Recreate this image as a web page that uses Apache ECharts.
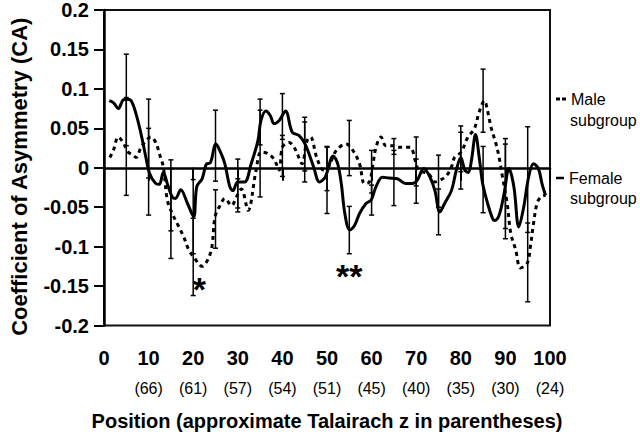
<!DOCTYPE html>
<html>
<head>
<meta charset="utf-8">
<script src="https://cdn.jsdelivr.net/npm/echarts@6/dist/echarts.min.js"></script>
<style>
html,body{margin:0;padding:0;background:#fff;}
#chart{width:640px;height:437px;}
</style>
</head>
<body>
<div id="chart"></div>
<script>
// ---- data ----
const xTickLabels = ['0','10','20','30','40','50','60','70','80','90','100'];
const parenLabels = ['', '(66)','(61)','(57)','(54)','(51)','(45)','(40)','(35)','(30)','(24)'];
const yTickLabels = ['-0.2','-0.15','-0.1','-0.05','0','0.05','0.1','0.15','0.2'];

const femaleX = [1.2,2.2,3.2,4.3,5.2,6.1,7.2,8.3,9.4,10.2,11.6,12.4,13.3,14.3,15.3,16,17.2,18.7,20.1,20.8,22,23,23.8,25.1,26.1,27.1,28.2,28.9,30,31.5,33,34.5,35.2,36.3,37.3,38.1,39.3,40.7,42.2,43.7,45.1,47,48.3,49.6,51.4,52.4,53.2,54,55.1,56.2,57.3,58.8,59.9,61,62.4,63.9,65.8,67.6,69.1,70.2,71.7,73.1,74.2,75.3,76.4,77.9,79,80,80.9,81.7,82.4,83.3,84.2,84.9,86,87.1,87.6,88.6,89.7,90.8,91.9,93,94.1,95.2,96.3,97.4,98.2,99];
const femaleY = [0.085,0.082,0.075,0.086,0.087,0.085,0.068,0.043,0.013,-0.007,-0.02,-0.021,-0.006,-0.022,-0.037,-0.039,-0.028,-0.045,-0.062,-0.024,-0.014,0.005,0.006,0.03,0.02,0.005,-0.024,-0.029,-0.018,-0.018,0.005,0.034,0.06,0.072,0.066,0.056,0.06,0.072,0.045,0.041,0.03,0.001,-0.018,-0.012,0.015,0.005,-0.02,-0.058,-0.079,-0.073,-0.058,-0.045,-0.041,-0.024,-0.012,-0.013,-0.014,-0.02,-0.02,-0.016,-0.001,-0.012,-0.029,-0.056,-0.045,-0.029,-0.003,0.013,-0.003,-0.006,0.01,0.042,0.01,-0.02,-0.045,-0.064,-0.067,-0.06,-0.033,-0.001,-0.024,-0.075,-0.05,-0.012,0.005,-0.001,-0.02,-0.035];

const maleX = [1.3,2.1,3.2,4.3,5.4,6.5,7.2,8.3,9.4,10.5,11.6,12.4,13.3,14.2,15.3,16.8,17.9,19,20.1,22,23.4,24.2,24.9,26,27.1,28.6,29.7,30.8,32.3,34.1,35.2,36.7,38.1,39.3,40,41.5,42.6,43.3,44.4,45.5,46.3,47.7,49.2,50.3,52.1,54.3,55.8,57.3,58.4,59.5,60.2,61,62.1,63.2,64.7,66.1,67.6,68.7,69.8,70.6,72.8,74.2,75.3,76.8,77.9,78.6,80.1,81.6,83,84.2,85.3,86,86.8,87.9,88.6,89.3,90.4,91.2,92.3,93.4,94.9,95.6,96.3,97.1,98,99];
const maleY = [0.013,0.022,0.039,0.032,0.02,0.016,0.013,0.026,0.034,0.039,0.032,0.018,0.001,-0.041,-0.058,-0.075,-0.088,-0.104,-0.113,-0.125,-0.115,-0.1,-0.062,-0.048,-0.039,-0.048,-0.037,-0.027,-0.054,-0.003,0.02,0.018,0.011,-0.003,0.026,0.032,0.026,0.018,0.005,0.034,0.039,0.013,-0.003,0.001,0.022,0.03,0.022,0.005,-0.02,-0.018,0.001,0.026,0.039,0.028,0.028,0.026,0.026,0.026,0.009,-0.003,-0.008,-0.018,-0.016,-0.01,0.001,0.013,0.02,0.039,0.049,0.072,0.085,0.072,0.051,0.03,0.013,-0.01,-0.045,-0.083,-0.104,-0.127,-0.121,-0.1,-0.071,-0.045,-0.037,-0.035];

const errX = [5,10,15,20,25,30,35,40,45,50,55,60,65,70,75,80,85,90,95];
const femaleErrCenter = [0.086,-0.005,-0.035,-0.062,0.028,-0.02,0.058,0.065,0.03,-0.016,-0.079,-0.041,-0.013,-0.017,-0.056,0.013,-0.015,-0.03,-0.015];
const femaleErrHalf   = [0.058,0.055,0.045,0.047,0.045,0.031,0.029,0.029,0.034,0.042,0.03,0.019,0.035,0.028,0.029,0.04,0.042,0.06,0.067];
const maleErrCenter   = [0.027,0.037,-0.058,-0.113,-0.065,-0.035,0.018,0.015,0.02,-0.001,0.025,-0.005,0.027,0.008,-0.017,0.02,0.085,-0.02,-0.12];
const maleErrHalf     = [0.062,0.05,0.057,0.049,0.037,0.021,0.055,0.026,0.038,0.028,0.035,0.027,0.01,0.031,0.033,0.025,0.04,0.057,0.05];

const annotX = [21.4, 55.0];
const annotY = [-0.149, -0.132];
const annotText = ['*', '**'];

// ---- build chart ----
const femaleData = femaleX.map((x, i) => [x, femaleY[i]]);
const maleData = maleX.map((x, i) => [x, maleY[i]]);
const errData = [];
errX.forEach((x, i) => {
  errData.push([x, femaleErrCenter[i] - femaleErrHalf[i], femaleErrCenter[i] + femaleErrHalf[i]]);
  errData.push([x, maleErrCenter[i] - maleErrHalf[i], maleErrCenter[i] + maleErrHalf[i]]);
});
const annotData = annotX.map((x, i) => [x, annotY[i]]);

const FONT = 'Liberation Sans, Arial, Helvetica, sans-serif';
const chart = echarts.init(document.getElementById('chart'), null, {renderer: 'svg'});

chart.setOption({
  animation: false,
  backgroundColor: '#fff',
  textStyle: {fontFamily: FONT, color: '#000'},
  grid: {left: 97, right: 90, top: 9, bottom: 111.5, show: true, borderColor: '#111', borderWidth: 2, backgroundColor: 'transparent'},
  legend: [
    {data: [{name: 'Male', icon: 'path://M0,0H4V3H0Z M6,0H10V3H6Z'}], left: 556, top: 91, padding: 0,
     itemWidth: 10, itemHeight: 3, itemGap: 5,
     itemStyle: {color: '#000', borderWidth: 0},
     textStyle: {fontSize: 16, color: '#000', fontFamily: FONT, lineHeight: 16}, selectedMode: false},
    {data: [{name: 'Female', icon: 'rect'}], left: 556, top: 170, padding: 0,
     itemWidth: 8, itemHeight: 2.5, itemGap: 6,
     itemStyle: {color: '#000', borderWidth: 0},
     textStyle: {fontSize: 16, color: '#000', fontFamily: FONT, lineHeight: 16}, selectedMode: false}
  ],
  graphic: [
    {type: 'text', left: 570, top: 112, style: {text: 'subgroup', font: '16px ' + FONT, fill: '#000'}},
    {type: 'text', left: 570, top: 190, style: {text: 'subgroup', font: '16px ' + FONT, fill: '#000'}}
  ],
  xAxis: [
    {type: 'value', min: 0, max: 100, interval: 10,
     name: 'Position (approximate Talairach z in parentheses)', nameLocation: 'middle', nameGap: 85,
     nameTextStyle: {fontSize: 20, fontWeight: 'bold', color: '#000', fontFamily: FONT},
     axisLine: {show: true, lineStyle: {color: '#000', width: 2.5}},
     axisTick: {show: true, length: 13, lineStyle: {color: '#000', width: 2}},
     axisLabel: {margin: 22, fontSize: 20, fontWeight: 'bold', color: '#000', fontFamily: FONT,
       showMinLabel: true, showMaxLabel: true,
       formatter: v => xTickLabels[Math.round(v / 10)]},
     splitLine: {show: false}},
    {type: 'value', min: 0, max: 100, interval: 10, position: 'bottom',
     axisLine: {show: false}, axisTick: {show: false}, splitLine: {show: false},
     axisLabel: {margin: 55, fontSize: 16, color: '#000', fontFamily: FONT,
       showMinLabel: true, showMaxLabel: true,
       formatter: v => parenLabels[Math.round(v / 10)]}}
  ],
  yAxis: {
    type: 'value', min: -0.2, max: 0.2, interval: 0.05,
    name: 'Coefficient of Asymmetry (CA)', nameLocation: 'middle', nameGap: 74, nameRotate: 90,
    nameTextStyle: {fontSize: 22, fontWeight: 'bold', color: '#000', fontFamily: FONT, padding: [0, 18, 0, 0]},
    axisLine: {show: true, lineStyle: {color: '#000', width: 2.5}},
    axisTick: {show: true, length: 10, lineStyle: {color: '#000', width: 2}},
    axisLabel: {margin: 15, fontSize: 20, fontWeight: 'bold', color: '#000', fontFamily: FONT,
      formatter: v => yTickLabels[Math.round((v + 0.2) / 0.05)]},
    splitLine: {show: false}
  },
  series: [
    {name: 'Error', type: 'custom', xAxisIndex: 0, data: errData, z: 2,
     renderItem: function (params, api) {
       const lo = api.coord([api.value(0), api.value(1)]);
       const hi = api.coord([api.value(0), api.value(2)]);
       const w = 2.5;
       const st = {stroke: '#000', lineWidth: 1.5};
       return {type: 'group', children: [
         {type: 'line', shape: {x1: lo[0], y1: lo[1], x2: hi[0], y2: hi[1]}, style: st},
         {type: 'line', shape: {x1: lo[0] - w, y1: lo[1], x2: lo[0] + w, y2: lo[1]}, style: st},
         {type: 'line', shape: {x1: hi[0] - w, y1: hi[1], x2: hi[0] + w, y2: hi[1]}, style: st}
       ]};
     }},
    {name: 'Male', type: 'line', xAxisIndex: 0, data: maleData, smooth: 0.35, symbol: 'none', z: 3,
     color: '#000', lineStyle: {color: '#000', width: 3, type: [4, 4]},
     markLine: {silent: true, symbol: 'none', label: {show: false},
       lineStyle: {color: '#000', width: 1, type: 'solid'}, data: [{yAxis: 0}]}},
    {name: 'Female', type: 'line', xAxisIndex: 0, data: femaleData, smooth: 0.35, symbol: 'none', z: 4,
     color: '#000', lineStyle: {color: '#000', width: 3, type: 'solid'}},
    {name: 'Sig', type: 'scatter', xAxisIndex: 0, data: annotData, symbolSize: 0, z: 5, color: '#000',
     itemStyle: {opacity: 1},
     label: {show: true, position: 'inside', offset: [0, 4], fontSize: 34, fontWeight: 'bold', color: '#000',
       opacity: 1, textBorderWidth: 0, fontFamily: FONT,
       formatter: p => annotText[p.dataIndex]}}
  ]
});
</script>
</body>
</html>
